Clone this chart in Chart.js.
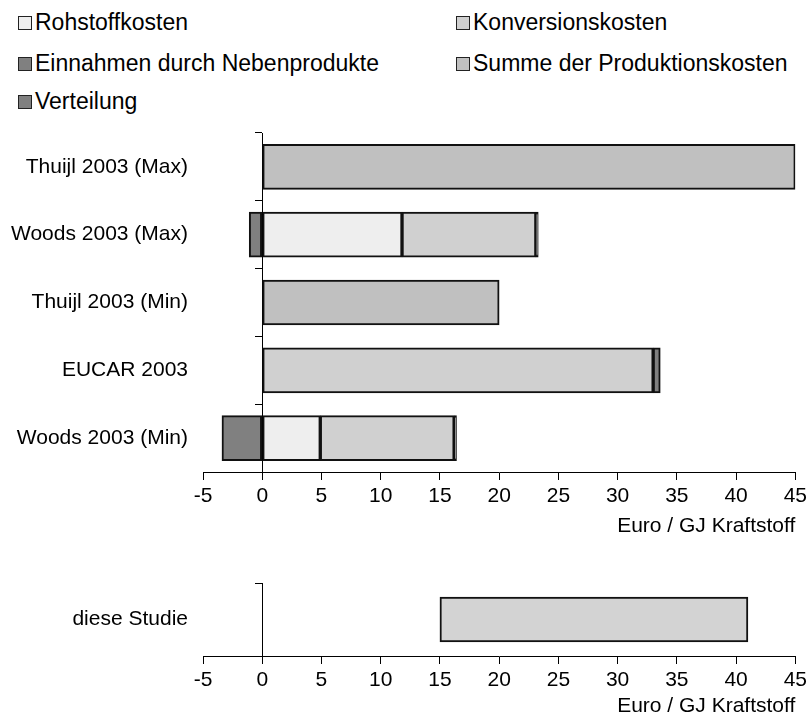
<!DOCTYPE html>
<html>
<head>
<meta charset="utf-8">
<script src="https://cdn.jsdelivr.net/npm/chart.js@4"></script>
<style>
  body { margin: 0; background: #fff; font-family: "Liberation Sans", Arial, sans-serif; }
  #page { position: relative; width: 811px; height: 727px; }
  #legend { position: absolute; left: 0; top: 0; width: 811px; }
  .item { position: absolute; font-size: 23px; line-height: 26px; color: #000; white-space: nowrap; }
  .item span.box { display: inline-block; width: 12px; height: 12px; border: 1px solid #222; margin-right: 3px; vertical-align: 0px; }
  #wrap1 { position: absolute; left: 0; top: 129px; width: 811px; height: 418px; }
  #wrap2 { position: absolute; left: 0; top: 579px; width: 811px; height: 148px; }
</style>
</head>
<body>
<div id="page">
  <div id="legend"></div>
  <div id="wrap1"><canvas id="chart1"></canvas></div>
  <div id="wrap2"><canvas id="chart2"></canvas></div>
</div>
<script>
// Kategorien
const studies = ['Thuijl 2003 (Max)', 'Woods 2003 (Max)', 'Thuijl 2003 (Min)', 'EUCAR 2003', 'Woods 2003 (Min)'];

// Serien (Euro / GJ Kraftstoff)
const rohstoffkosten = [null, 11.8, null, null, 4.9];
const konversionskosten = [null, 11.3, null, 33.0, 11.3];
const einnahmenNebenprodukte = [null, -1.1, null, null, -3.4];
const summeProduktion = [45, null, 20, null, null];
const verteilung = [null, 0.2, null, 0.6, 0.2];

const seriesNames = ['Rohstoffkosten', 'Konversionskosten', 'Einnahmen durch Nebenprodukte', 'Summe der Produktionskosten', 'Verteilung'];
const seriesColors = ['#eeeeee', '#d0d0d0', '#808080', '#c0c0c0', '#808080'];

// diese Studie (Spanne)
const studyLabel = ['diese Studie'];
const studyRange = [[15, 41]];

const xMin = -5, xMax = 45, xStep = 5;
const axisTitle = 'Euro / GJ Kraftstoff';

// Legende (zwei Spalten)
const legendPos = [[18, 9], [456, 9], [18, 50], [456, 50], [18, 88]];
const legendDiv = document.getElementById('legend');
seriesNames.forEach(function(name, i) {
    const el = document.createElement('div');
    el.className = 'item';
    el.style.left = legendPos[i][0] + 'px';
    el.style.top = legendPos[i][1] + 'px';
    el.innerHTML = '<span class="box" style="background:' + seriesColors[i] + '"></span>' + name;
    legendDiv.appendChild(el);
});

Chart.defaults.font.family = '"Liberation Sans", Arial, sans-serif';
Chart.defaults.font.size = 21;
Chart.defaults.color = '#000';

// no extra padding above / below the category band
function noPad(scale) {
    scale.paddingTop = 0;
    scale.paddingBottom = 0;
}

function makeScales(labels, axisHeight) {
    return {
        x: {
            type: 'linear',
            min: xMin,
            max: xMax,
            border: { display: true, color: '#000', width: 1 },
            grid: { drawOnChartArea: false, drawTicks: true, tickLength: 8, color: '#000' },
            ticks: { stepSize: xStep, padding: 4, maxRotation: 0 },
            title: { display: true, text: axisTitle, align: 'end', padding: { top: 4, bottom: 8 } },
            afterFit: function(scale) { scale.height = axisHeight; }
        },
        y: {
            type: 'category',
            position: { x: 0 },
            border: { display: true, color: '#000', width: 1 },
            grid: { drawOnChartArea: false, drawTicks: true, tickLength: 7, color: '#000', offset: true },
            ticks: { display: false },
            afterFit: noPad
        },
        yLabels: {
            type: 'category',
            labels: labels,
            position: 'left',
            offset: true,
            border: { display: false },
            grid: { display: false, drawTicks: false },
            ticks: { padding: 15 },
            afterFit: function(scale) { scale.width = 203; noPad(scale); }
        }
    };
}

const bar = { borderColor: '#111', borderWidth: 2, borderSkipped: false, barThickness: 45 };

const datasets1 = [
    Object.assign({ label: seriesNames[0], data: rohstoffkosten, backgroundColor: seriesColors[0] }, bar),
    Object.assign({ label: seriesNames[1], data: konversionskosten, backgroundColor: seriesColors[1] }, bar),
    Object.assign({ label: seriesNames[2], data: einnahmenNebenprodukte, backgroundColor: seriesColors[2] }, bar),
    Object.assign({ label: seriesNames[3], data: summeProduktion, backgroundColor: seriesColors[3] }, bar),
    Object.assign({ label: seriesNames[4], data: verteilung, backgroundColor: seriesColors[4] }, bar)
];

const scales1 = makeScales(studies, 75);
scales1.x.stacked = true;
scales1.y.stacked = true;

new Chart(document.getElementById('chart1').getContext('2d'), {
    type: 'bar',
    data: { labels: studies, datasets: datasets1 },
    options: {
        indexAxis: 'y',
        responsive: true,
        maintainAspectRatio: false,
        animation: false,
        layout: { padding: { top: 4, right: 14, left: 0, bottom: 0 } },
        plugins: { legend: { display: false }, tooltip: { enabled: false } },
        scales: scales1
    }
});

new Chart(document.getElementById('chart2').getContext('2d'), {
    type: 'bar',
    data: {
        labels: studyLabel,
        datasets: [Object.assign({ label: 'diese Studie', data: studyRange, backgroundColor: '#d3d3d3' }, bar)]
    },
    options: {
        indexAxis: 'y',
        responsive: true,
        maintainAspectRatio: false,
        animation: false,
        layout: { padding: { top: 4, right: 14, left: 0, bottom: 0 } },
        plugins: { legend: { display: false }, tooltip: { enabled: false } },
        scales: makeScales(studyLabel, 71)
    }
});
</script>
</body>
</html>
